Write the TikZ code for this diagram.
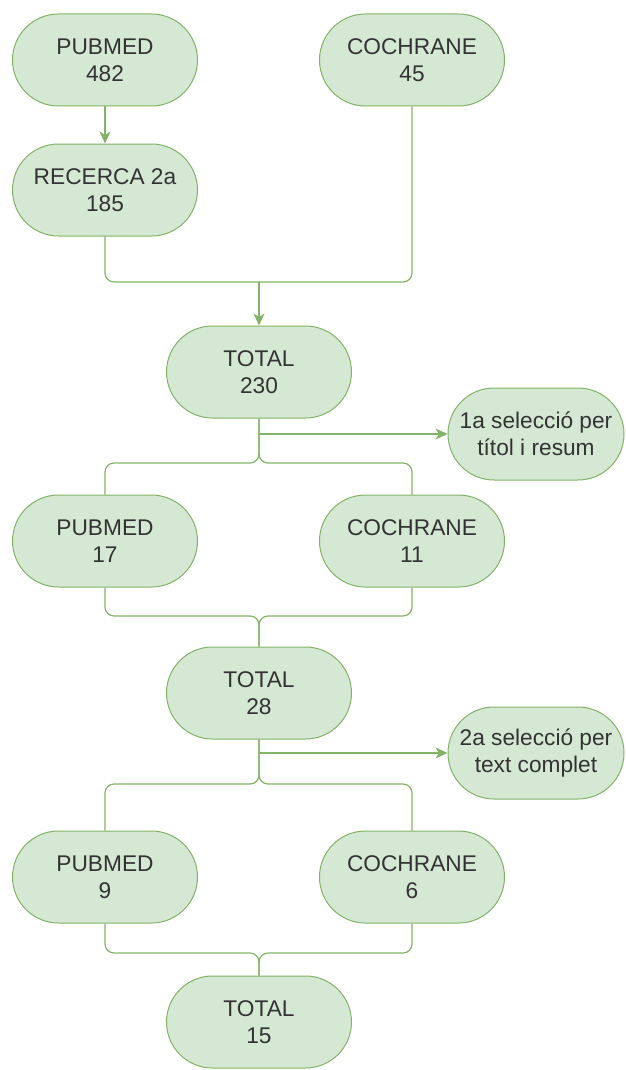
\documentclass[tikz,border=0pt]{standalone}
\usepackage{fontspec}
\setmainfont{Liberation Sans}
\usetikzlibrary{arrows.meta}
\definecolor{boxfill}{HTML}{D5E8D4}
\definecolor{boxline}{HTML}{82B366}
\definecolor{textgrey}{HTML}{333333}
\tikzset{
  stage/.style = {draw = boxline, fill = boxfill, text = textgrey, line width = 1pt, rounded corners = 46, minimum width = 185, minimum height = 92, inner sep = 0pt, align = center, font = \fontsize{22.7}{26.7}\selectfont},
  note/.style = {stage, minimum width = 176},
  link/.style = {draw = boxline, line width = 1.2pt, rounded corners = 9},
  flow/.style = {link, -{Stealth[length = 12pt, width = 11pt, inset = 3.5pt]}}
}
\begin{document}
\begin{tikzpicture}[x = 1pt, y = -1pt]
\pgfmathsetmacro\colL{105};
\pgfmathsetmacro\colM{259};
\pgfmathsetmacro\colR{412};
\pgfmathsetmacro\colS{536};
\useasboundingbox (0,0) rectangle (625,1070);
\node[stage] (pub1) at (\colL,60) {PUBMED\\482};
\node[stage] (coch1) at (\colR,60) {COCHRANE\\45};
\node[stage] (rec) at (\colL,190) {RECERCA 2a\\185};
\node[stage] (tot1) at (\colM,372) {TOTAL\\230};
\node[note] (sel1) at (\colS,434) {1a selecció per\\títol i resum};
\node[stage] (pub2) at (\colL,541) {PUBMED\\17};
\node[stage] (coch2) at (\colR,541) {COCHRANE\\11};
\node[stage] (tot2) at (\colM,693) {TOTAL\\28};
\node[note] (sel2) at (\colS,753) {2a selecció per\\text complet};
\node[stage] (pub3) at (\colL,877) {PUBMED\\9};
\node[stage] (coch3) at (\colR,877) {COCHRANE\\6};
\node[stage] (tot3) at (\colM,1022) {TOTAL\\15};
\coordinate (join1) at (\colM,282);
\coordinate (fork1) at (\colM,463);
\coordinate (merge1) at (\colM,616);
\coordinate (fork2) at (\colM,784);
\coordinate (merge2) at (\colM,953);
\coordinate (tap1) at (tot1.south |- sel1.west);
\coordinate (tap2) at (tot2.south |- sel2.west);
\draw[flow] (pub1) -- (rec);
\draw[link] (rec.south) |- (join1) -| (coch1.south);
\draw[flow] (join1) -- (tot1);
\draw[link] (tot1.south) -- (fork1) -| (pub2.north);
\draw[link] (tot1.south) -- (fork1) -| (coch2.north);
\draw[flow] (tap1) -- (sel1.west);
\draw[link] (pub2.south) |- (merge1) -- (tot2.north);
\draw[link] (coch2.south) |- (merge1) -- (tot2.north);
\draw[link] (tot2.south) -- (fork2) -| (pub3.north);
\draw[link] (tot2.south) -- (fork2) -| (coch3.north);
\draw[flow] (tap2) -- (sel2.west);
\draw[link] (pub3.south) |- (merge2) -- (tot3.north);
\draw[link] (coch3.south) |- (merge2) -- (tot3.north);
\end{tikzpicture}
\end{document}
